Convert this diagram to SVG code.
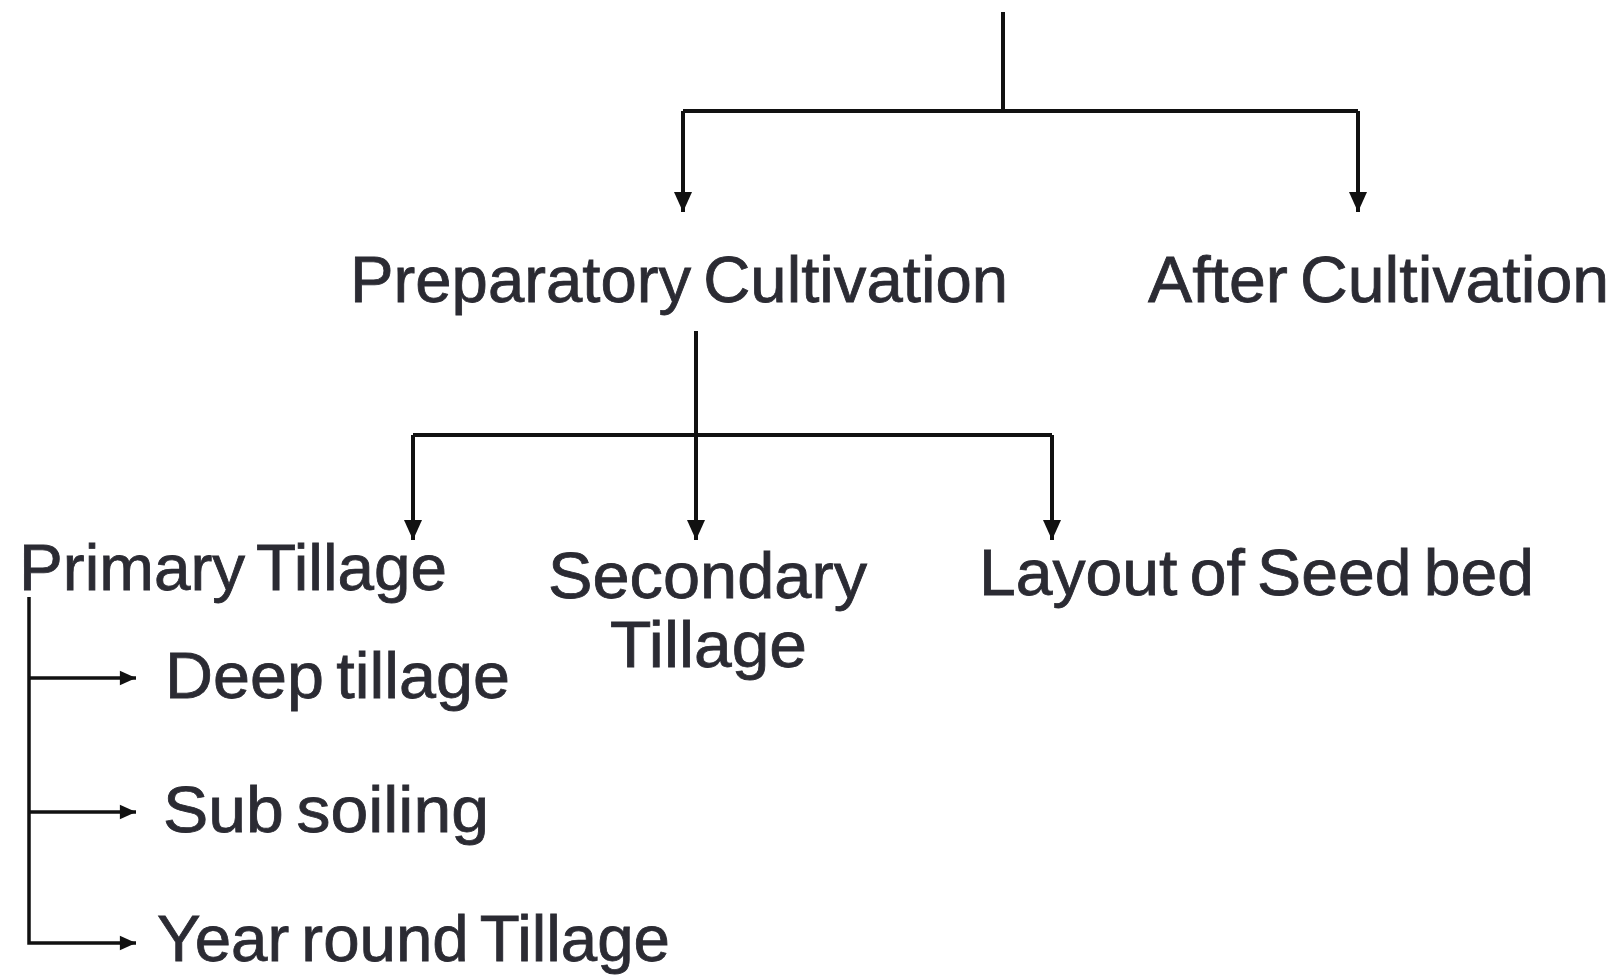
<svg xmlns="http://www.w3.org/2000/svg" width="1622" height="975" viewBox="0 0 1622 975">
<defs>
<marker id="ah" viewBox="0 0 10 10" refX="10" refY="5" markerWidth="5" markerHeight="5" orient="auto" markerUnits="strokeWidth">
<path d="M0,0.5 L10,5 L0,9.5 Z" fill="#111"/>
</marker>
<marker id="ahs" viewBox="0 0 10 10" refX="10" refY="5" markerWidth="5.2" markerHeight="4.6" orient="auto" markerUnits="strokeWidth">
<path d="M0,0.5 L10,5 L0,9.5 Z" fill="#111"/>
</marker>
</defs>
<style>
.t{font-family:"Liberation Sans",Arial,sans-serif;font-size:65px;fill:#2b2b33;stroke:#2b2b33;stroke-width:0.8;word-spacing:-6px;}
.c{fill:none;stroke:#111;stroke-width:4;}
.cs{fill:none;stroke:#111;stroke-width:3.5;}
</style>
<rect width="1622" height="975" fill="#fff"/>
<g id="connectors">
<path class="c" d="M1003,12 V111"/>
<path class="c" d="M683,111 H1358"/>
<path class="c" d="M683,111 V212" marker-end="url(#ah)"/>
<path class="c" d="M1358,111 V212" marker-end="url(#ah)"/>
<path class="c" d="M696,331 V540" marker-end="url(#ah)"/>
<path class="c" d="M413,435 H1052"/>
<path class="c" d="M413,435 V540" marker-end="url(#ah)"/>
<path class="c" d="M1052,435 V540" marker-end="url(#ah)"/>
<path class="cs" d="M29,597 V943 H136" marker-end="url(#ahs)"/>
<path class="cs" d="M29,678 H136" marker-end="url(#ahs)"/>
<path class="cs" d="M29,812 H136" marker-end="url(#ahs)"/>
</g>
<g id="node-preparatory"><text class="t" x="350" y="302" textLength="658" lengthAdjust="spacingAndGlyphs">Preparatory Cultivation</text></g>
<g id="node-after"><text class="t" x="1148" y="302" textLength="461" lengthAdjust="spacingAndGlyphs">After Cultivation</text></g>
<g id="node-primary"><text class="t" x="19" y="590" textLength="428" lengthAdjust="spacingAndGlyphs">Primary Tillage</text></g>
<g id="node-secondary"><text class="t" x="548" y="598" textLength="319" lengthAdjust="spacingAndGlyphs">Secondary</text><text class="t" x="610" y="667" textLength="197" lengthAdjust="spacingAndGlyphs">Tillage</text></g>
<g id="node-layout"><text class="t" x="979" y="595" textLength="555" lengthAdjust="spacingAndGlyphs">Layout of Seed bed</text></g>
<g id="node-deep"><text class="t" x="165" y="698" textLength="345" lengthAdjust="spacingAndGlyphs">Deep tillage</text></g>
<g id="node-subsoiling"><text class="t" x="163" y="832" textLength="326" lengthAdjust="spacingAndGlyphs">Sub soiling</text></g>
<g id="node-yearround"><text class="t" x="157" y="961" textLength="513" lengthAdjust="spacingAndGlyphs">Year round Tillage</text></g>
</svg>
